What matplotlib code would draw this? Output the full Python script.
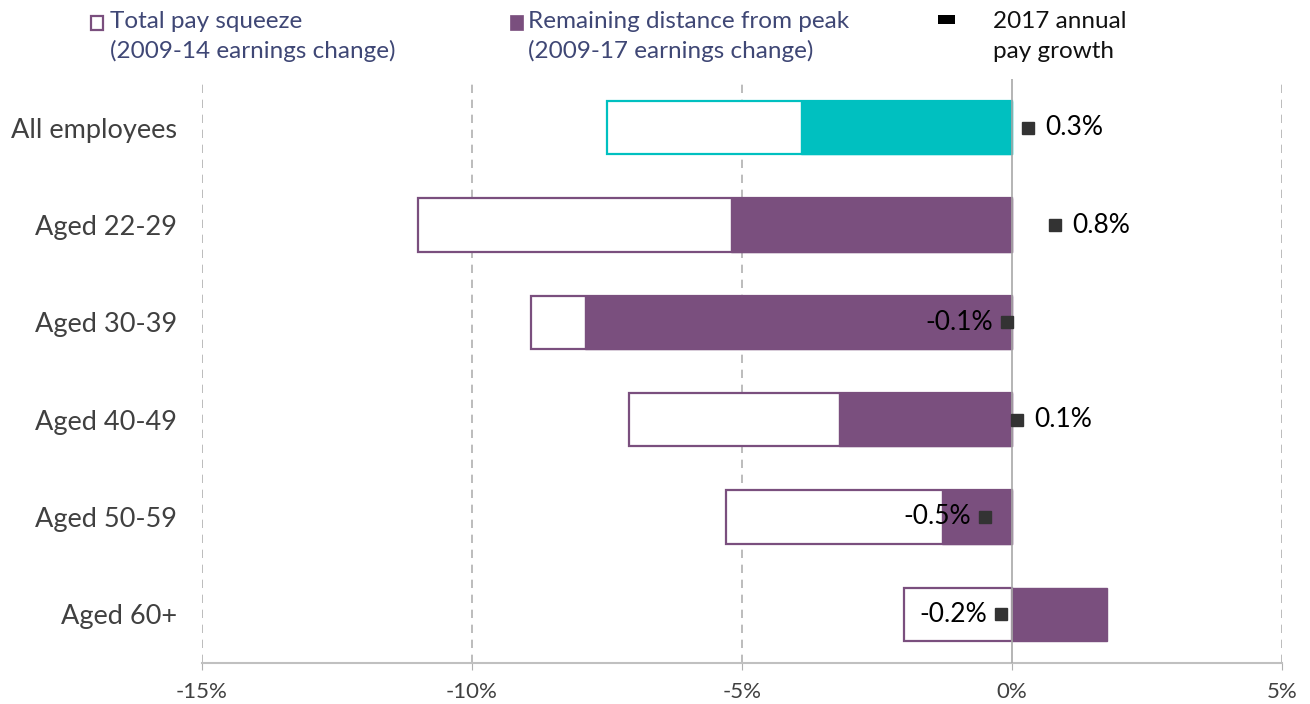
import matplotlib
matplotlib.use("Agg")
import matplotlib.pyplot as plt
from matplotlib.patches import Rectangle

categories = ["All employees", "Aged 22-29", "Aged 30-39", "Aged 40-49", "Aged 50-59", "Aged 60+"]
total_squeeze = [-7.5, -11.0, -8.9, -7.1, -5.3, -2.0]       # 2009-14 earnings change
remaining = [-3.9, -5.2, -7.9, -3.2, -1.3, 1.75]           # 2009-17 earnings change
growth_2017 = [0.3, 0.8, -0.1, 0.1, -0.5, -0.2]            # 2017 annual pay growth
xticks = [-15, -10, -5, 0, 5]
xtick_labels = ["-15%", "-10%", "-5%", "0%", "5%"]

TEAL = "#00c0c0"
PURPLE = "#7a4f7e"
LEGEND_TXT = "#3f4775"
GRID = "#b0b0b0"

plt.rcParams['font.family'] = ['Lato', 'DejaVu Sans']

fig = plt.figure(figsize=(13.1, 7.04), dpi=100)
ax = fig.add_axes([202/1310, 41/704, 1080/1310, 584/704])

ypos = list(range(len(categories)))
h = 0.55
for i, (c, t, r, g) in enumerate(zip(categories, total_squeeze, remaining, growth_2017)):
    col = TEAL if i == 0 else PURPLE
    ax.barh(i, t, height=h, color="white", edgecolor=col, linewidth=1.6, zorder=3)
    ax.barh(i, r, height=h, color=col, edgecolor=col, linewidth=1.0, zorder=4)
    ax.plot(g, i, marker="s", color="#333333", markersize=8, linestyle="none", zorder=6)
    lab = f"{g:.1f}%"
    if g >= 0:
        ax.annotate(lab, (g, i), xytext=(12, 0), textcoords="offset points",
                    ha="left", va="center", fontsize=19, color="black", zorder=7)
    else:
        ax.annotate(lab, (g, i), xytext=(-10, 0), textcoords="offset points",
                    ha="right", va="center", fontsize=19, color="black", zorder=7)

ax.set_xlim(-15, 5)
ax.set_ylim(len(categories) - 0.5, -0.5)
ax.set_yticks(ypos)
ax.set_yticklabels(categories, fontsize=19.5, color="#404040")
ax.tick_params(axis="y", length=0, pad=18)
ax.set_xticks(xticks)
ax.set_xticklabels(xtick_labels, fontsize=16, color="#404040")
ax.tick_params(axis="x", length=5, color=GRID, pad=9)

for x in xticks:
    if x == 0:
        ax.axvline(x, color="#a8a8a8", linewidth=1.2, zorder=5)
    else:
        ax.axvline(x, color=GRID, linewidth=1.2, linestyle=(0, (5, 4)), zorder=1)

for s in ["top", "right", "left"]:
    ax.spines[s].set_visible(False)
ax.spines["bottom"].set_color("#c0c0c0")
ax.spines["bottom"].set_linewidth(1.5)

# Legend
fs = 17.5
fig.patches.append(Rectangle((91/1310, 1-30/704), 12/1310, 14/704, transform=fig.transFigure,
                             facecolor="white", edgecolor=PURPLE, linewidth=1.6))
fig.text(110/1310, 1-22/704, "Total pay squeeze", fontsize=fs, color=LEGEND_TXT, va="center")
fig.text(110/1310, 1-51/704, "(2009-14 earnings change)", fontsize=fs, color=LEGEND_TXT, va="center")

fig.patches.append(Rectangle((510/1310, 1-30/704), 13/1310, 15/704, transform=fig.transFigure,
                             facecolor=PURPLE, edgecolor=PURPLE, linewidth=0.5))
fig.text(528/1310, 1-22/704, "Remaining distance from peak", fontsize=fs, color=LEGEND_TXT, va="center")
fig.text(528/1310, 1-51/704, "(2009-17 earnings change)", fontsize=fs, color=LEGEND_TXT, va="center")

fig.patches.append(Rectangle((938/1310, 1-24/704), 17/1310, 9/704, transform=fig.transFigure,
                             facecolor="black", edgecolor="black", linewidth=0))
fig.text(993/1310, 1-22/704, "2017 annual", fontsize=fs, color="#111111", va="center")
fig.text(993/1310, 1-51/704, "pay growth", fontsize=fs, color="#111111", va="center")

fig.savefig("out.png", dpi=100)
